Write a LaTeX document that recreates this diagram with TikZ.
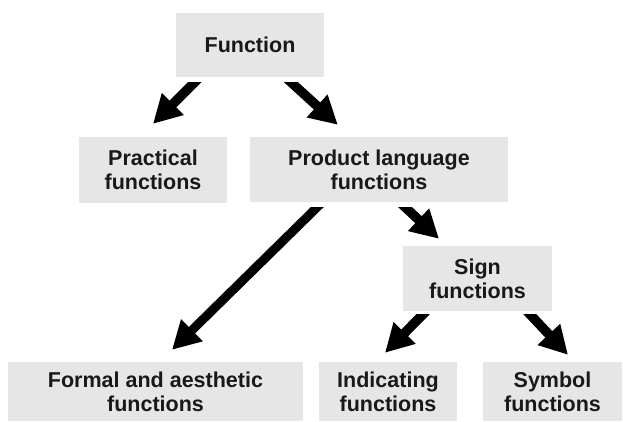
\documentclass[tikz,border=0pt]{standalone}
\usepackage{fontspec}
\setmainfont{Liberation Sans}
\usetikzlibrary{arrows.meta,calc}
\definecolor{boxgray}{RGB}{230,230,230}
\tikzset{
  fbox/.style={fill=boxgray, draw=none, inner sep=0pt, align=center,
    font=\bfseries\fontsize{21.5}{24}\selectfont, text=black!90},
  bigarrow/.style={line width=9.5pt, line cap=butt,
    -{Triangle[length=28pt,width=29pt]}, black}
}
\begin{document}
\begin{tikzpicture}[x=1pt,y=-1pt]
\useasboundingbox (0,0) rectangle (623,421);

% boxes
\node[fbox, minimum width=148pt, minimum height=64pt] (fn)     at (250,45)     {Function};
\node[fbox, minimum width=148pt, minimum height=66pt] (prac)   at (153,170)    {Practical\\functions};
\node[fbox, minimum width=258pt, minimum height=65pt] (prod)   at (379,169.5)  {Product language\\functions};
\node[fbox, minimum width=149pt, minimum height=65pt] (sign)   at (477.5,278.5){Sign\\functions};
\node[fbox, minimum width=295pt, minimum height=59pt] (formal) at (155.5,391.5){Formal and aesthetic\\functions};
\node[fbox, minimum width=138pt, minimum height=59pt] (ind)    at (388,391.5)  {Indicating\\functions};
\node[fbox, minimum width=139pt, minimum height=59pt] (sym)    at (552.5,391.5){Symbol\\functions};

% arrow tails (shafts are cut level just below each box)
\coordinate (t1) at ($(fn.south)+(-54,5)$);
\coordinate (t2) at ($(fn.south)+(43,5)$);
\coordinate (t3) at ($(prod.south)+(-62,5)$);
\coordinate (t4) at ($(prod.south)+(29,5)$);
\coordinate (t5) at ($(sign.south)+(-53,3)$);
\coordinate (t6) at ($(sign.south)+(49.5,3)$);

% connectors
\begin{scope}
  \clip ($(fn.south west)+(-200,5)$) rectangle ($(fn.south east)+(300,200)$);
  \draw[bigarrow] ($(t1)!-8pt!(prac.north)$) -- ($(prac.north)+(0,-13)$);
  \draw[bigarrow] ($(t2)!-8pt!(prod.north)$) -- ($(prod.north west)+(88,-12)$);
\end{scope}
\begin{scope}
  \clip ($(prod.south west)+(-300,5)$) rectangle ($(prod.south east)+(200,200)$);
  \draw[bigarrow, line width=9pt] ($(t3)!-8pt!(formal.north)$) -- ($(formal.north)+(16.5,-12)$);
  \draw[bigarrow] ($(t4)!-8pt!(sign.north)$) -- ($(sign.north)+(-38.5,-7)$);
\end{scope}
\begin{scope}
  \clip ($(sign.south west)+(-100,3)$) rectangle ($(sign.south east)+(100,100)$);
  \draw[bigarrow] ($(t5)!-8pt!(ind.north)$) -- ($(ind.north)+(-3,-9)$);
  \draw[bigarrow] ($(t6)!-8pt!(sym.north)$) -- ($(sym.north)+(15.5,-7)$);
\end{scope}
\end{tikzpicture}
\end{document}
